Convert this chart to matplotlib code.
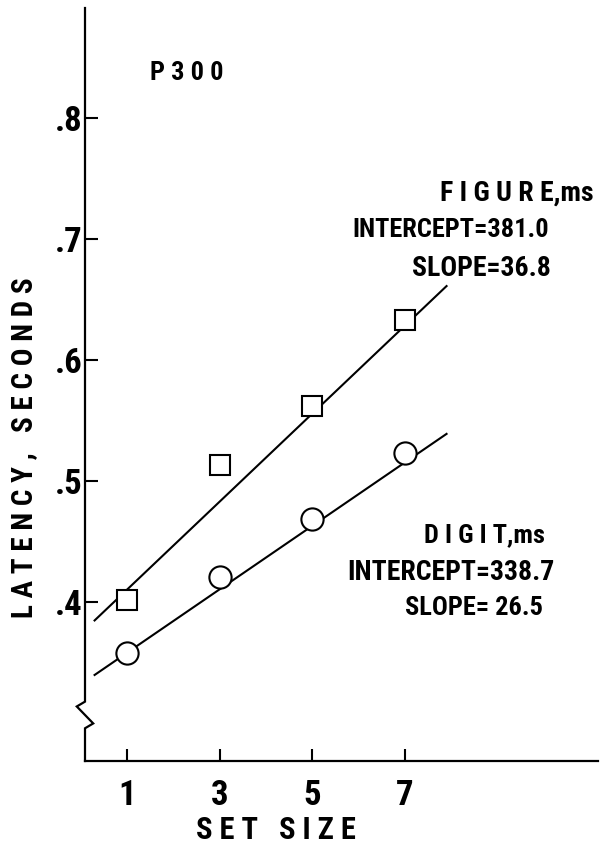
import numpy as np
import matplotlib
matplotlib.use("Agg")
from matplotlib import pyplot as plt

# datos
set_size = [1, 3, 5, 7]
figure_lat = [0.402, 0.513, 0.562, 0.633]
digit_lat = [0.358, 0.421, 0.469, 0.523]

# rectas ajustadas (extremos)
fit_x = [0.3, 7.9]
figure_fit = [0.385, 0.661]
digit_fit = [0.340, 0.539]

y_ticks = [0.4, 0.5, 0.6, 0.7, 0.8]
y_labels = [".4", ".5", ".6", ".7", ".8"]

fam = ["Roboto Condensed", "DejaVu Sans"]
plt.rcParams["font.family"] = fam
plt.rcParams["font.weight"] = "bold"
plt.rcParams["font.stretch"] = "condensed"

W, H = 605, 851
fig = plt.figure(figsize=(W / 100, H / 100), dpi=100)
ax = fig.add_axes([85 / W, 1 - 761 / H, (598 - 85) / W, (761 - 8) / H])

ax.set_xlim(0.093, 11.17)
ax.set_ylim(0.269, 0.8905)

# lineas de ajuste
ax.plot(fit_x, figure_fit, color="black", lw=1.5, zorder=2)
ax.plot(fit_x, digit_fit, color="black", lw=1.5, zorder=2)

# puntos
ax.plot(set_size, figure_lat, ls="none", marker="s", ms=14, mfc="white",
        mec="black", mew=1.5, zorder=3)
ax.plot(set_size, digit_lat, ls="none", marker="o", ms=16, mfc="white",
        mec="black", mew=1.5, zorder=3)

# ejes
for s in ["top", "right", "left"]:
    ax.spines[s].set_visible(False)
ax.spines["bottom"].set_linewidth(1.6)

# eje y con corte
tr = ax.get_yaxis_transform()
ax.plot([0, 0, -0.016, 0.016, 0, 0],
        [0.8905, 0.318, 0.314, 0.300, 0.296, 0.269],
        color="black", lw=1.6, transform=tr, clip_on=False,
        solid_joinstyle="miter")

ax.set_xticks(set_size)
ax.set_xticklabels([str(v) for v in set_size])
ax.set_yticks(y_ticks)
ax.set_yticklabels(y_labels)
ax.tick_params(axis="x", direction="in", length=9, width=1.5, pad=13,
               labelsize=25)
ax.tick_params(axis="y", direction="in", length=9.5, width=1.5, pad=2,
               labelsize=25)


def ftext(x, y, s, size, **kw):
    fig.text(x / W, 1 - y / H, s, fontsize=size, fontweight="bold",
             va="center", **kw)


ftext(150, 73, "P 3 0 0", 19, ha="left")
ftext(276, 830, "S E T   S I Z E", 22, ha="center")
ftext(24, 448, "L A T E N C Y ,   S E C O N D S", 21, ha="center",
      rotation=90)

ftext(440, 193, "F I G U R E,ms", 20, ha="left")
ftext(352, 230, "INTERCEPT=381.0", 19, ha="left")
ftext(412, 268, "SLOPE=36.8", 20, ha="left")

ftext(484, 535, "D I G I T,ms", 19, ha="center")
ftext(347, 572, "INTERCEPT=338.7", 20, ha="left")
ftext(405, 608, "SLOPE= 26.5", 19, ha="left")

fig.savefig("out.png", dpi=100)
